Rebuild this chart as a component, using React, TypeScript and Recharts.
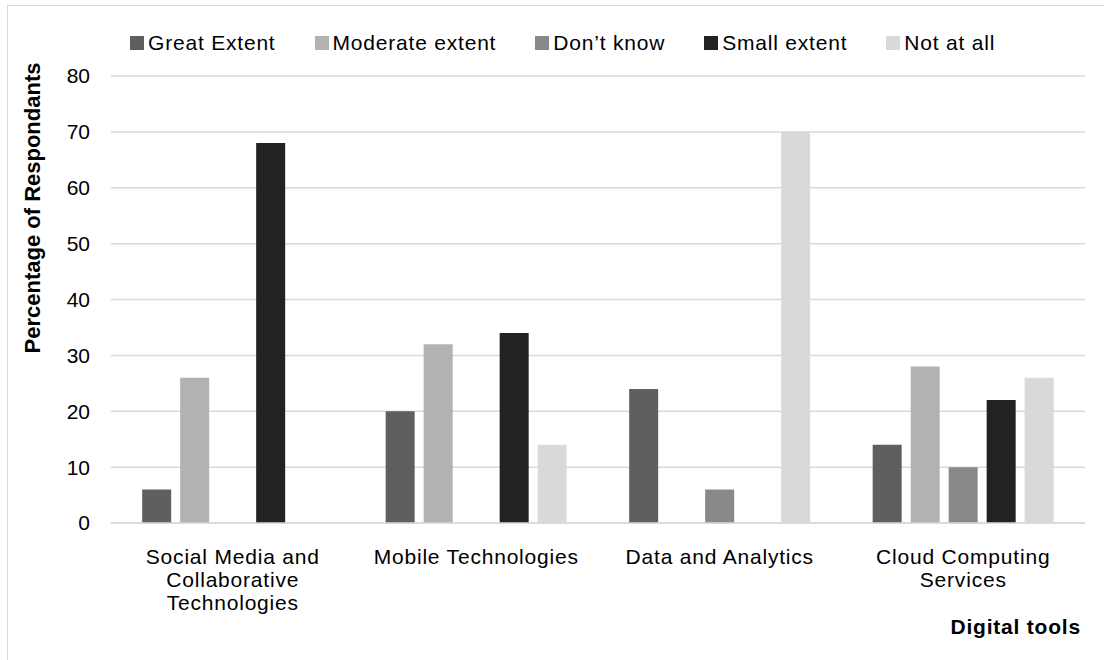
import React from "react";
import { BarChart, Bar, XAxis, YAxis, CartesianGrid } from "recharts";

// digital tools surveyed and share of respondents (%) per answer
const categories = [
  "Social Media and Collaborative Technologies",
  "Mobile Technologies",
  "Data and Analytics",
  "Cloud Computing Services",
];
const greatExtent = [6, 20, 24, 14];
const moderateExtent = [26, 32, 0, 28];
const dontKnow = [0, 0, 6, 10];
const smallExtent = [68, 34, 0, 22];
const notAtAll = [0, 14, 70, 26];
const yTicks = [0, 10, 20, 30, 40, 50, 60, 70, 80];

const series = [
  { key: "great", name: "Great Extent", color: "#5f5f5f", values: greatExtent },
  { key: "moderate", name: "Moderate extent", color: "#b2b2b2", values: moderateExtent },
  { key: "dontKnow", name: "Don\u2019t know", color: "#898989", values: dontKnow },
  { key: "small", name: "Small extent", color: "#222222", values: smallExtent },
  { key: "notAtAll", name: "Not at all", color: "#d9d9d9", values: notAtAll },
];

const data = categories.map((name, i) => {
  const row: Record<string, string | number> = { name };
  series.forEach((s) => {
    row[s.key] = s.values[i];
  });
  return row;
});

const FONT = "'Liberation Sans', Arial, sans-serif";
const FONT_SIZE = 21;
const SPACING = 0.8;
const GRID = "#d9d9d9";

let measureCtx: CanvasRenderingContext2D | null = null;
function textWidth(str: string) {
  if (!measureCtx) {
    measureCtx = document.createElement("canvas").getContext("2d");
  }
  if (!measureCtx) return str.length * FONT_SIZE * 0.55;
  measureCtx.font = `${FONT_SIZE}px ${FONT}`;
  return measureCtx.measureText(str).width + str.length * SPACING;
}

// greedy word wrap for the category labels
function wrapLabel(label: string, maxWidth: number) {
  const lines: string[] = [];
  let line = "";
  label.split(" ").forEach((word) => {
    const next = line ? `${line} ${word}` : word;
    if (line && textWidth(next) > maxWidth) {
      lines.push(line);
      line = word;
    } else {
      line = next;
    }
  });
  if (line) lines.push(line);
  return lines;
}

function CategoryTick(props: any) {
  const { x, y, payload } = props;
  const lines = wrapLabel(String(payload.value), 225);
  return (
    <text
      x={x}
      y={y}
      textAnchor="middle"
      fontFamily={FONT}
      fontSize={FONT_SIZE}
      fill="#000"
      style={{ letterSpacing: SPACING }}
    >
      {lines.map((ln, i) => (
        <tspan key={i} x={x} dy={i === 0 ? 15 : 23}>
          {ln}
        </tspan>
      ))}
    </text>
  );
}

function YTitle(props: any) {
  const { viewBox } = props;
  const cx = viewBox.x - 19;
  const cy = viewBox.y + 132;
  return (
    <text
      x={cx}
      y={cy}
      transform={`rotate(-90 ${cx} ${cy})`}
      textAnchor="middle"
      dominantBaseline="central"
      fontFamily={FONT}
      fontSize={22}
      fontWeight="bold"
      fill="#000"
    >
      Percentage of Respondants
    </text>
  );
}

function LegendRow() {
  return (
    <div
      style={{
        position: "absolute",
        top: 32,
        left: 130,
        display: "flex",
        gap: 39,
        fontFamily: FONT,
        fontSize: FONT_SIZE,
        letterSpacing: SPACING,
        lineHeight: "22px",
        color: "#000",
      }}
    >
      {series.map((s) => (
        <div key={s.key} style={{ display: "flex", alignItems: "center" }}>
          <span
            style={{
              display: "inline-block",
              width: 14,
              height: 14,
              background: s.color,
              marginRight: 4,
            }}
          />
          <span>{s.name}</span>
        </div>
      ))}
    </div>
  );
}

export default function App() {
  return (
    <div
      style={{
        position: "absolute",
        left: 0,
        top: 0,
        width: 1104,
        height: 660,
        background: "#fff",
        overflow: "hidden",
      }}
    >
      <div
        style={{
          position: "absolute",
          left: 7,
          top: 5,
          right: -10,
          bottom: -10,
          borderLeft: `1.5px solid ${GRID}`,
          borderTop: `1.5px solid ${GRID}`,
        }}
      />
      <LegendRow />
      <div style={{ position: "absolute", left: 0, top: 0 }}>
        <BarChart
          width={1104}
          height={660}
          data={data}
          margin={{ top: 76, right: 19, left: 51, bottom: 22 }}
          barCategoryGap="12.8%"
          barGap={9}
        >
          <CartesianGrid vertical={false} stroke={GRID} strokeWidth={1.5} />
          <XAxis
            dataKey="name"
            height={115}
            tickLine={false}
            axisLine={{ stroke: GRID, strokeWidth: 1.5 }}
            tickMargin={20}
            interval={0}
            tick={<CategoryTick />}
            label={{
              value: "Digital tools",
              position: "insideBottomRight",
              offset: 4,
              fontFamily: FONT,
              fontSize: FONT_SIZE,
              fontWeight: "bold",
              fill: "#000",
              style: { letterSpacing: SPACING },
            }}
          />
          <YAxis
            width={60}
            domain={[0, 80]}
            ticks={yTicks}
            interval={0}
            tickLine={false}
            axisLine={false}
            tickMargin={15}
            tick={{ fontFamily: FONT, fontSize: FONT_SIZE, fill: "#000" }}
            label={<YTitle />}
          />
          {series.map((s) => (
            <Bar
              key={s.key}
              dataKey={s.key}
              name={s.name}
              fill={s.color}
              isAnimationActive={false}
            />
          ))}
        </BarChart>
      </div>
    </div>
  );
}
